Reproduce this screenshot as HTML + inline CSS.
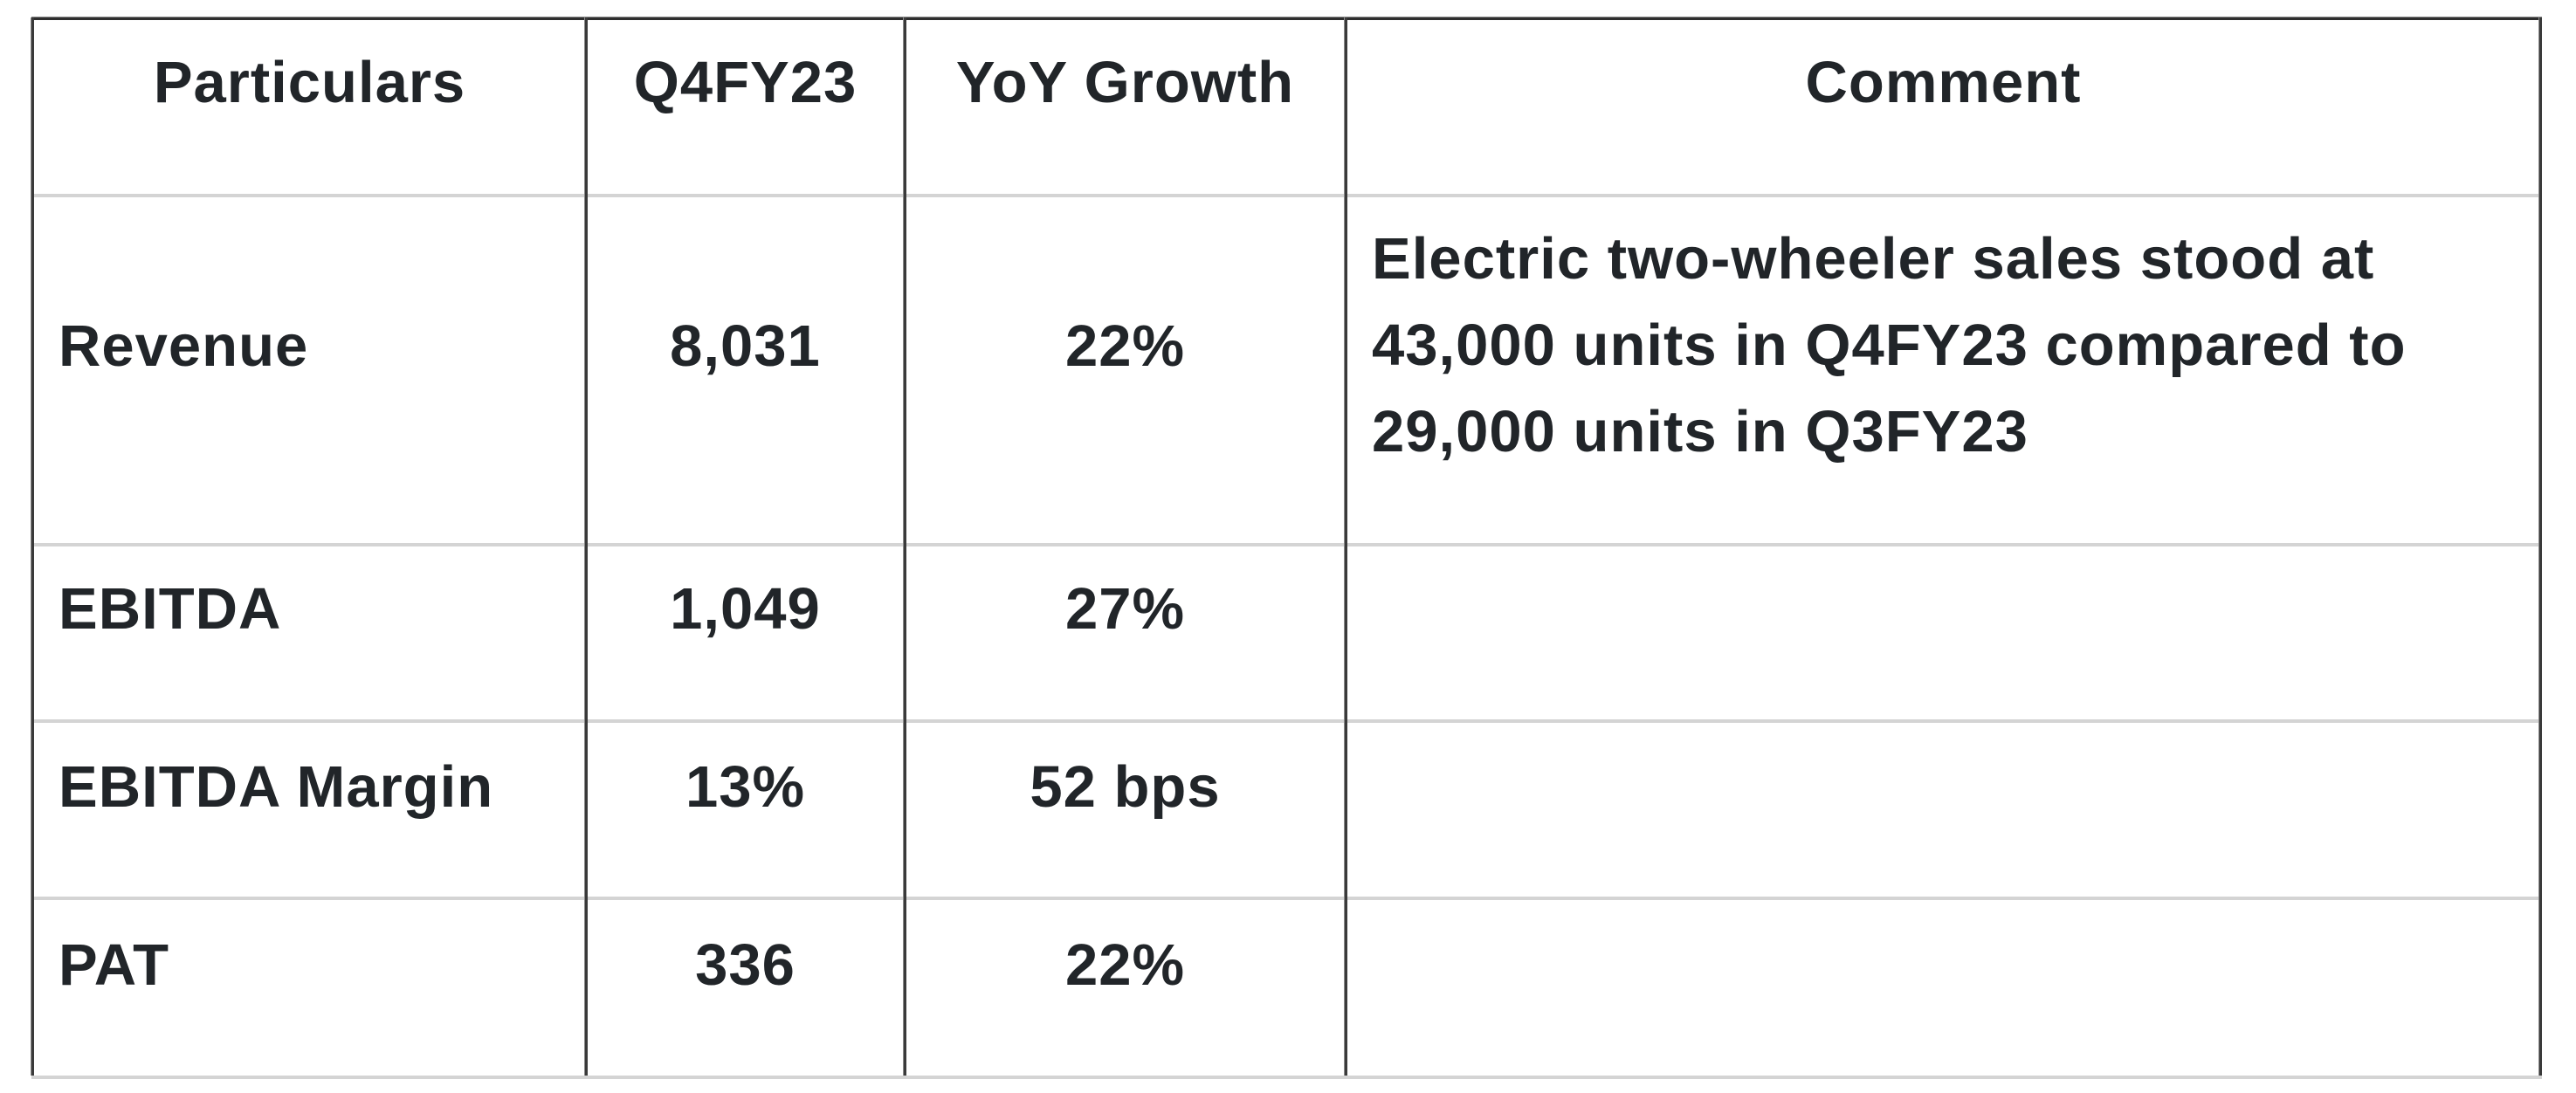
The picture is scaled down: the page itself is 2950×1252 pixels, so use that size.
<!DOCTYPE html>
<html>
<head>
<meta charset="utf-8">
<style>
  html, body { margin:0; padding:0; background:#fff; }
  body { width:2950px; height:1252px; position:relative; overflow:hidden;
         font-family:"Liberation Sans", Arial, sans-serif; font-weight:bold; color:#212529; }
  .v { position:absolute; top:20px; height:1212px; width:3px; background:#3a3a3a; box-shadow:-1px 0 0 #8a8a8a; }
  .h { position:absolute; left:36px; width:2875px; height:4px; background:#d4d4d4; }
  .t { position:absolute; font-size:67px; line-height:67px; white-space:nowrap; letter-spacing:1px; }
  .c2 { left:673px; width:361px; text-align:center; }
  .c3 { left:1038px; width:501px; text-align:center; }
  .c1 { left:67px; }
  .c4 { left:1571px; }
</style>
</head>
<body>
  <!-- top border -->
  <div style="position:absolute;left:36px;top:20px;width:2875px;height:3px;background:#2e2e2e;box-shadow:0 -1px 0 #888;"></div>
  <!-- horizontal light lines -->
  <div class="h" style="top:222px"></div>
  <div class="h" style="top:622px"></div>
  <div class="h" style="top:824px"></div>
  <div class="h" style="top:1027px"></div>
  <div class="h" style="top:1232px"></div>
  <!-- vertical lines -->
  <div class="v" style="left:36px"></div>
  <div class="v" style="left:670px"></div>
  <div class="v" style="left:1035px"></div>
  <div class="v" style="left:1540px"></div>
  <div class="v" style="left:2908px"></div>

  <!-- header (baseline 118 -> top 61) -->
  <div class="t" style="left:39px;width:631px;text-align:center;top:61px">Particulars</div>
  <div class="t c2" style="top:61px">Q4FY23</div>
  <div class="t c3" style="top:61px">YoY Growth</div>
  <div class="t" style="left:1543px;width:1365px;text-align:center;top:61px">Comment</div>

  <!-- row 1 -->
  <div class="t c1" style="top:363px">Revenue</div>
  <div class="t c2" style="top:363px">8,031</div>
  <div class="t c3" style="top:363px">22%</div>
  <div class="t c4" style="top:263px">Electric two-wheeler sales stood at</div>
  <div class="t c4" style="top:362px">43,000 units in Q4FY23 compared to</div>
  <div class="t c4" style="top:461px">29,000 units in Q3FY23</div>

  <!-- row 2 -->
  <div class="t c1" style="top:664px">EBITDA</div>
  <div class="t c2" style="top:664px">1,049</div>
  <div class="t c3" style="top:664px">27%</div>

  <!-- row 3 -->
  <div class="t c1" style="top:868px">EBITDA Margin</div>
  <div class="t c2" style="top:868px">13%</div>
  <div class="t c3" style="top:868px">52 bps</div>

  <!-- row 4 -->
  <div class="t c1" style="top:1072px">PAT</div>
  <div class="t c2" style="top:1072px">336</div>
  <div class="t c3" style="top:1072px">22%</div>
</body>
</html>
